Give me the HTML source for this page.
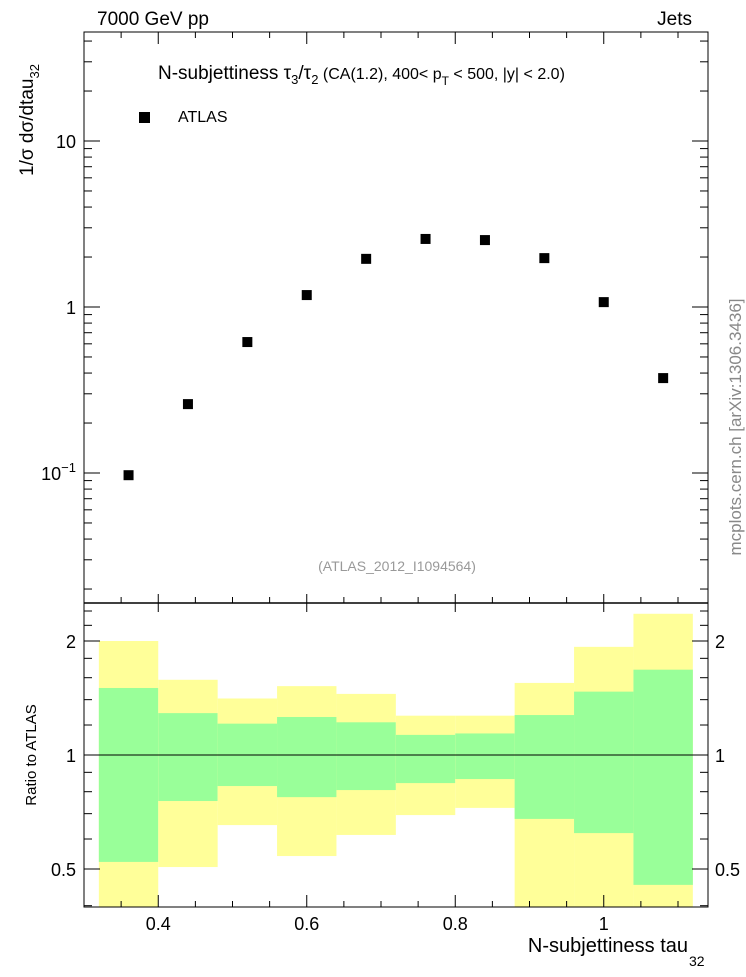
<!DOCTYPE html>
<html><head><meta charset="utf-8"><style>
body{margin:0;background:#fff;}
svg text{font-family:"Liberation Sans","DejaVu Sans",sans-serif;}
</style></head><body>
<svg id="c" width="746" height="972" xmlns="http://www.w3.org/2000/svg"></svg>
<script>
const xCenters=[0.36,0.44,0.52,0.60,0.68,0.76,0.84,0.92,1.00,1.08];
const yValues=[0.097,0.26,0.615,1.18,1.95,2.57,2.53,1.97,1.07,0.373];
const binEdges=[0.32,0.40,0.48,0.56,0.64,0.72,0.80,0.88,0.96,1.04,1.12];
const yellowHi=[2.0,1.58,1.41,1.52,1.45,1.27,1.27,1.55,1.93,2.36];
const yellowLo=[0.3,0.506,0.653,0.541,0.615,0.694,0.725,0.3,0.3,0.3];
const greenHi=[1.503,1.29,1.21,1.26,1.22,1.13,1.14,1.275,1.47,1.68];
const greenLo=[0.522,0.756,0.828,0.774,0.808,0.843,0.864,0.678,0.622,0.454];
const xTicks=[0.4,0.6,0.8,1.0];
const xTickLabels=["0.4","0.6","0.8","1"];
const ratioTicks=[0.5,1,2];
const ratioTickLabels=["0.5","1","2"];

const L=84,R=708,T=32,M=603,B=907;
const X=v=>84+(v-0.3)*742.5;
const Y=v=>141-(Math.log10(v)-1)*166;
const YR=v=>Math.min(B,Math.max(M,755-Math.log2(v)*114));
const s=document.getElementById('c');
const NS='http://www.w3.org/2000/svg';
function el(t,a,txt){const e=document.createElementNS(NS,t);for(const k in a)e.setAttribute(k,a[k]);if(txt!==undefined)e.textContent=txt;s.appendChild(e);return e;}

for(let i=0;i<xCenters.length;i++){
 const x0=X(binEdges[i]),x1=X(binEdges[i+1]);
 let r=el('rect',{x:x0,y:YR(yellowHi[i]),width:x1-x0,height:YR(yellowLo[i])-YR(yellowHi[i]),fill:'#ffff99'});
 
 
 r=el('rect',{x:x0,y:YR(greenHi[i]),width:x1-x0,height:YR(greenLo[i])-YR(greenHi[i]),fill:'#99ff99'});
 
 
}
let ln=el('line',{x1:L,x2:R,y1:YR(1),y2:YR(1),stroke:'#000','stroke-width':1});



let f=el('rect',{x:L,y:T,width:R-L,height:B-T,fill:'none',stroke:'#000','stroke-width':1});


el('line',{x1:L,x2:R,y1:M,y2:M,stroke:'#000','stroke-width':1.5});

for(let v=0.3;v<=1.14;v+=0.05){
 const x=X(v);const maj=Math.abs(v*10-Math.round(v*10))<0.01&&Math.round(v*10)%2==0;
 const len=maj?12:6;
 [[M,-1],[M,1],[B,-1],[T,1]].forEach(([y,d])=>{
   if(!maj&&d==1&&y==M)return;
   el('line',{x1:x,x2:x,y1:y,y2:y+d*(maj?(y==M?9:len):len),stroke:'#000'});
 });
}
xTicks.forEach((v,i)=>{const t=el('text',{x:X(v),y:930,'font-size':18,'text-anchor':'middle'},xTickLabels[i]);
});

for(let e=-2;e<=1;e++){for(let m=1;m<10;m++){const v=m*Math.pow(10,e);const y=Y(v);if(y<T||y>M)continue;
 const len=m==1?16:8;
 el('line',{x1:L,x2:L+len,y1:y,y2:y,stroke:'#000'});
 el('line',{x1:R,x2:R-len,y1:y,y2:y,stroke:'#000'});}}
el('text',{x:76,y:148,'font-size':18,'text-anchor':'end'},'10');
el('text',{x:76,y:314,'font-size':18,'text-anchor':'end'},'1');
let tt=el('text',{x:76,y:480,'font-size':18,'text-anchor':'end'});
tt.innerHTML='10<tspan dy="-8" font-size="13">−1</tspan>';

[0.4,0.5,0.6,0.7,0.8,0.9,1,1.2,1.4,1.6,1.8,2,2.2,2.4].forEach(v=>{const y=YR(v);if(y<=M||y>=B)return;
 const len=(v==0.5||v==1||v==2)?16:8;
 el('line',{x1:L,x2:L+len,y1:y,y2:y,stroke:'#000'});
 el('line',{x1:R,x2:R-len,y1:y,y2:y,stroke:'#000'});});
ratioTicks.forEach((v,i)=>{
 let t=el('text',{x:76,y:YR(v)+7,'font-size':18,'text-anchor':'end'},ratioTickLabels[i]);
 
 t=el('text',{x:715,y:YR(v)+7,'font-size':18},ratioTickLabels[i]);
 
});

xCenters.forEach((v,i)=>{const p=el('rect',{x:X(v)-5,y:Y(yValues[i])-5,width:10,height:10,fill:'#000'});
 });
</script>
<svg style="position:absolute;left:0;top:0" width="746" height="972" xmlns="http://www.w3.org/2000/svg">
<text x="97" y="25" font-size="19">7000 GeV pp</text>
<text x="692" y="25" font-size="19" text-anchor="end">Jets</text>
<text x="158" y="79" font-size="19">N-subjettiness  τ<tspan dy="5" font-size="13">3</tspan><tspan dy="-5">/τ</tspan><tspan dy="5" font-size="13">2</tspan><tspan dy="-5" font-size="16"> (CA(1.2), 400&lt; p</tspan><tspan dy="6" font-size="12">T</tspan><tspan dy="-6" font-size="16"> &lt; 500, |y| &lt; 2.0)</tspan></text>
<rect x="139" y="112" width="11" height="11" fill="#000"/>
<text x="178" y="122" font-size="16">ATLAS</text>
<text x="397" y="571" font-size="14" fill="#999" text-anchor="middle">(ATLAS_2012_I1094564)</text>
<text transform="translate(33,120) rotate(-90)" font-size="19" text-anchor="middle">1/σ dσ/dtau<tspan dy="6" font-size="13">32</tspan></text>
<text transform="translate(36,755) rotate(-90)" font-size="15" text-anchor="middle">Ratio to ATLAS</text>
<text x="688" y="952" font-size="20" text-anchor="end">N-subjettiness tau</text>
<text x="689" y="966" font-size="14">32</text>
<text transform="translate(741,427) rotate(-90)" font-size="17" fill="#888" text-anchor="middle">mcplots.cern.ch [arXiv:1306.3436]</text>
</svg>
</body></html>
